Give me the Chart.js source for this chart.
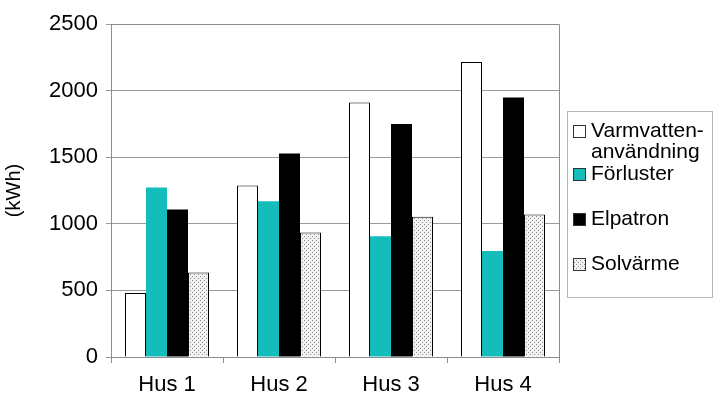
<!DOCTYPE html>
<html>
<head>
<meta charset="utf-8">
<script src="https://cdn.jsdelivr.net/npm/chart.js@4.4.0/dist/chart.umd.min.js"></script>
<style>
  html, body { margin: 0; padding: 0; background: #fff; }
  #wrap { width: 715px; height: 396px; position: relative; }
</style>
</head>
<body>
<div id="wrap"><canvas id="energyChart"></canvas></div>
<script>
const categories = ["Hus 1", "Hus 2", "Hus 3", "Hus 4"];
const varmvatten = [480, 1288, 1910, 2215];
const forluster = [1272, 1170, 906, 795];
const elpatron = [1108, 1528, 1750, 1948];
const solvarme = [635, 935, 1052, 1070];
const seriesLabels = [["Varmvatten-", "användning"], ["Förluster"], ["Elpatron"], ["Solvärme"]];
const yTicks = [0, 500, 1000, 1500, 2000, 2500];

const FONT = "'Liberation Sans', Arial, sans-serif";

// dotted fill for Solvärme
function dotPattern() {
  const c = document.createElement("canvas");
  c.width = 4; c.height = 4;
  const g = c.getContext("2d");
  g.fillStyle = "#f2f2f2";
  g.fillRect(0, 0, 4, 4);
  g.fillStyle = "#8a8a8a";
  g.fillRect(0, 0, 1, 1);
  g.fillRect(2, 2, 1, 1);
  return g.createPattern(c, "repeat");
}

const boxedLegend = {
  id: "boxedLegend",
  afterDraw(chart) {
    const ctx = chart.ctx;
    const area = chart.chartArea;
    ctx.save();
    // plot frame (top / right)
    ctx.strokeStyle = "#8c8c8c";
    ctx.lineWidth = 1;
    ctx.beginPath();
    ctx.moveTo(area.left, area.top + 0.5);
    ctx.lineTo(area.right + 0.5, area.top + 0.5);
    ctx.lineTo(area.right + 0.5, area.bottom);
    ctx.stroke();

    // legend box
    ctx.strokeStyle = "#b5b5b5";
    ctx.strokeRect(567.5, 111.5, 145, 186);
    const rows = [131, 174, 219, 264];
    ctx.font = "21px " + FONT;
    ctx.textBaseline = "middle";
    ctx.fillStyle = "#000";
    chart.data.datasets.forEach((ds, i) => {
      const y = rows[i];
      ctx.fillStyle = ds.backgroundColor;
      ctx.fillRect(573, y - 6, 13, 13);
      ctx.strokeStyle = "#333";
      ctx.strokeRect(573.5, y - 5.5, 12, 12);
      ctx.fillStyle = "#000";
      seriesLabels[i].forEach((line, k) => {
        ctx.fillText(line, 591, y + k * 21);
      });
    });
    ctx.restore();
  }
};

const pattern = dotPattern();

new Chart(document.getElementById("energyChart").getContext("2d"), {
  type: "bar",
  data: {
    labels: categories,
    datasets: [
      { label: "Varmvattenanvändning", data: varmvatten, backgroundColor: "#ffffff", borderColor: "#000", borderWidth: 1 },
      { label: "Förluster", data: forluster, backgroundColor: "#13bdba", borderColor: "#13bdba", borderWidth: 0 },
      { label: "Elpatron", data: elpatron, backgroundColor: "#000000", borderColor: "#000", borderWidth: 0 },
      { label: "Solvärme", data: solvarme, backgroundColor: pattern, borderColor: "#000", borderWidth: 1 },
    ],
  },
  options: {
    responsive: true,
    maintainAspectRatio: false,
    animation: false,
    categoryPercentage: 0.75,
    barPercentage: 1,
    layout: { padding: { top: 24, right: 156, bottom: 0, left: 0 } },
    plugins: {
      legend: { display: false },
      tooltip: { enabled: false },
    },
    scales: {
      x: {
        afterFit(scale) { scale.height = 39; },
        grid: { display: true, offset: true, drawOnChartArea: false, tickLength: 6, color: "#8c8c8c" },
        border: { color: "#8c8c8c" },
        ticks: { color: "#000", padding: 11, font: { family: FONT, size: 22, lineHeight: 1 } },
      },
      y: {
        min: 0,
        max: 2500,
        afterFit(scale) { scale.width = 111; },
        afterBuildTicks(scale) { scale.ticks = yTicks.map(v => ({ value: v })); },
        grid: { color: "#9a9a9a", tickLength: 5 },
        border: { color: "#8c8c8c" },
        ticks: {
          color: "#000",
          padding: 8,
          font: { family: FONT, size: 22, lineHeight: 1 },
          callback: (v) => String(v),
        },
        title: {
          display: true,
          text: "(kWh)",
          color: "#000",
          padding: { top: 4, bottom: 0 },
          font: { family: FONT, size: 20, lineHeight: 1 },
        },
      },
    },
  },
  plugins: [boxedLegend],
});
</script>
</body>
</html>
